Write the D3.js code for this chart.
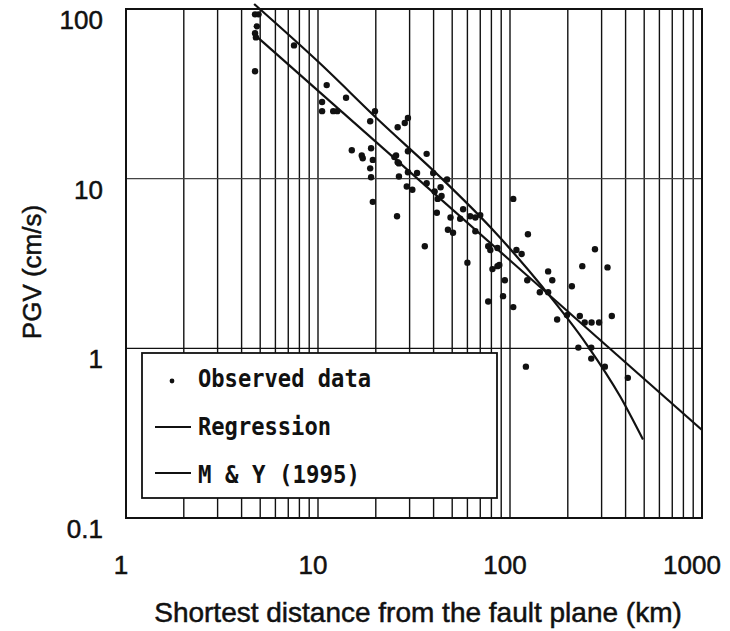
<!DOCTYPE html>
<html>
<head>
<meta charset="utf-8">
<script src="https://cdn.jsdelivr.net/npm/d3@7"></script>
<style>
  body { margin: 0; background: #fff; }
  svg { display: block; }
  .tick-label, .axis-title { font-family: "Liberation Sans", Arial, sans-serif; font-size: 26px; fill: #111; stroke: #111; stroke-width: 0.5px; }
  .x-title { font-size: 28px; }
  .legend-text { font-family: "DejaVu Sans Mono", "Liberation Mono", monospace; font-weight: bold; font-size: 25px; fill: #111; }
</style>
</head>
<body>
<svg width="730" height="631"></svg>
<script>
// observed PGV (cm/s) vs. shortest distance (km)
var obsDist = [4.7, 4.9, 4.8, 4.7, 4.75, 4.7, 7.5, 11.1, 14, 10.5, 10.5, 12, 12.6, 19.8, 18.7, 26, 28.3, 29.4,
  15, 16.9, 17.1, 18.9, 19.3, 18.7, 18.9, 25.5, 26.4, 29.4, 36.8, 29.4, 26.4, 32.8, 39.8, 29, 31, 36.8,
  40.5, 42, 19.3, 41.6, 25.8, 36, 47, 43.5, 44, 57, 49, 55, 62, 66, 70, 104, 47.5, 50.5, 66, 77, 79, 86,
  108, 115, 60, 81, 86, 88, 124, 94, 123, 92, 77, 104, 158, 166, 143, 158, 210, 238, 277, 322, 176, 198,
  231, 245, 266, 291, 339, 227, 265, 265, 312, 121, 411, 25, 26];
var obsPgv = [93, 93, 79, 72, 68, 43, 61, 35.6, 30, 28.3, 25, 25, 25, 25, 21.8, 20.1, 21.3, 22.8,
  14.7, 13.7, 13.2, 15.1, 12.9, 11.5, 10.2, 13.7, 12.3, 14.5, 14, 10.9, 10.3, 10.8, 10.8, 9.0, 8.6, 9.4,
  8.4, 7.6, 7.3, 6.3, 6.0, 4.0, 9.9, 8.9, 7.9, 6.6, 5.9, 5.8, 6.0, 5.9, 6.1, 7.6, 5.0, 4.8, 4.9, 4.0, 3.8, 3.9,
  3.8, 3.6, 3.2, 2.93, 3.05, 3.1, 4.7, 2.52, 2.52, 2.03, 1.89, 1.75, 2.84, 2.52, 2.14, 2.14, 2.32, 3.05, 3.84, 3.0, 1.48, 1.57,
  1.55, 1.42, 1.42, 1.42, 1.55, 1.01, 1.01, 0.87, 0.78, 0.78, 0.67, 13.4, 12.5];

// regression line end points
var regDist = [4.8, 1000];
var regPgv = [68.7, 0.33];

// M & Y (1995) curve
var myDist = [4.65, 10, 21, 43, 80, 148, 250, 375, 493];
var myPgv = [107, 49, 21.8, 10.3, 5.1, 2.29, 1.06, 0.52, 0.29];

var xTicks = [1, 10, 100, 1000];
var yTicks = [0.1, 1, 10, 100];
var yTickText = ["0.1", "1", "10", "100"];
var legendItems = ["Observed data", "Regression", "M & Y (1995)"];

var svg = d3.select("svg");
var mLeft = 126, mRight = 702, mTop = 9, mBottom = 518;

var x = d3.scaleLog().domain([1, 1000]).range([mLeft, mRight]);
var y = d3.scaleLog().domain([0.1, 100]).range([mBottom, mTop]);

// vertical grid: every 1..9 per decade
var vgrid = [];
[1, 10, 100].forEach(function(d) {
  for (var i = 1; i <= 9; i++) vgrid.push(d * i);
});
vgrid.push(1000);

svg.append("g").attr("class", "vgrid")
  .selectAll("line").data(vgrid).enter().append("line")
  .attr("x1", function(d) { return x(d); })
  .attr("x2", function(d) { return x(d); })
  .attr("y1", mTop).attr("y2", mBottom)
  .attr("stroke", "#111").attr("stroke-width", 1.4);

svg.append("g").attr("class", "hgrid")
  .selectAll("line").data([1, 10]).enter().append("line")
  .attr("x1", mLeft).attr("x2", mRight)
  .attr("y1", function(d) { return y(d); })
  .attr("y2", function(d) { return y(d); })
  .attr("stroke", function(d) { return d == 10 ? "#444" : "#111"; })
  .attr("stroke-width", 1.4);

// frame
svg.append("rect")
  .attr("x", mLeft).attr("y", mTop)
  .attr("width", mRight - mLeft).attr("height", mBottom - mTop)
  .attr("fill", "none").attr("stroke", "#111").attr("stroke-width", 2);

// tick labels
svg.append("g").selectAll("text").data(yTicks).enter().append("text")
  .attr("class", "tick-label")
  .attr("x", 103)
  .attr("y", function(d) { return y(d) + 20; })
  .attr("text-anchor", "end")
  .text(function(d, i) { return yTickText[i]; });

svg.append("g").selectAll("text").data(xTicks).enter().append("text")
  .attr("class", "tick-label")
  .attr("x", function(d) { return x(d) - (d == 1000 ? 10 : 5); })
  .attr("y", 574)
  .attr("text-anchor", "middle")
  .text(function(d) { return d; });

svg.append("text").attr("class", "axis-title x-title")
  .attr("x", 418).attr("y", 622)
  .attr("text-anchor", "middle")
  .text("Shortest distance from the fault plane (km)");

svg.append("text").attr("class", "axis-title")
  .attr("transform", "translate(41,272) rotate(-90)")
  .attr("text-anchor", "middle")
  .text("PGV (cm/s)");

// lines
var line = d3.line()
  .x(function(d) { return x(d[0]); })
  .y(function(d) { return y(d[1]); });

svg.append("path")
  .datum(d3.zip(regDist, regPgv))
  .attr("d", line)
  .attr("fill", "none").attr("stroke", "#111").attr("stroke-width", 2.2);

svg.append("path")
  .datum(d3.zip(myDist, myPgv))
  .attr("d", line.curve(d3.curveMonotoneX))
  .attr("fill", "none").attr("stroke", "#111").attr("stroke-width", 2.2);

// observed points
svg.append("g").selectAll("circle").data(d3.zip(obsDist, obsPgv)).enter().append("circle")
  .attr("cx", function(d) { return x(d[0]); })
  .attr("cy", function(d) { return y(d[1]); })
  .attr("r", 3.2)
  .attr("fill", "#111");

// legend
var lg = svg.append("g");
lg.append("rect")
  .attr("x", 142).attr("y", 353).attr("width", 355).attr("height", 145)
  .attr("fill", "#fff").attr("stroke", "#111").attr("stroke-width", 1.8);

var lgText = [173, 133, 162];
var lgBase = [387, 435, 483];
lg.selectAll("text.legend-text").data(legendItems).enter().append("text")
  .attr("class", "legend-text")
  .attr("x", 198)
  .attr("y", function(d, i) { return lgBase[i]; })
  .attr("textLength", function(d, i) { return lgText[i]; })
  .attr("lengthAdjust", "spacingAndGlyphs")
  .text(function(d) { return d; });

lg.append("circle").attr("cx", 172).attr("cy", 381).attr("r", 2.4).attr("fill", "#111");
lg.selectAll("line").data([427, 473]).enter().append("line")
  .attr("x1", 155).attr("x2", 191)
  .attr("y1", function(d) { return d; }).attr("y2", function(d) { return d; })
  .attr("stroke", "#111").attr("stroke-width", 2);
</script>
</body>
</html>
